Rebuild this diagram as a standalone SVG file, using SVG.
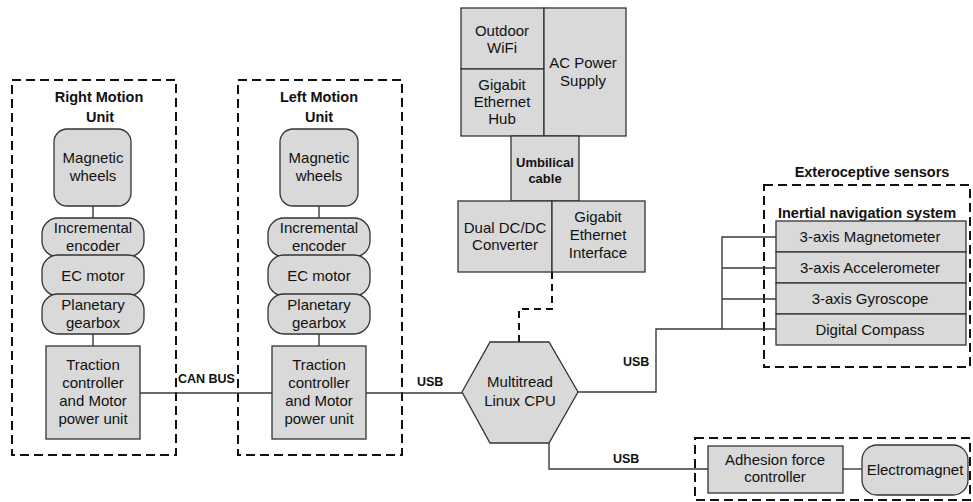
<svg xmlns="http://www.w3.org/2000/svg" width="973" height="502" viewBox="0 0 973 502">
  <style>
    .box { fill: #d9d9d9; stroke: #333; stroke-width: 1.3; }
    .grp { fill: none; stroke: #111; stroke-width: 2; stroke-dasharray: 9 5; }
    .wire { fill: none; stroke: #3a3a3a; stroke-width: 1.4; }
    .dwire { fill: none; stroke: #111; stroke-width: 2; stroke-dasharray: 7 5; }
    text { font-family: "Liberation Sans", Arial, sans-serif; fill: #111; }
    .t { font-size: 15px; text-anchor: middle; }
    .h { font-size: 14.5px; font-weight: bold; text-anchor: middle; }
    .lbl { font-size: 12.5px; font-weight: bold; }
  </style>

  <!-- group outlines -->
  <g id="groups">
    <rect class="grp" x="12" y="80" width="164" height="375"/>
    <rect class="grp" x="238" y="80" width="164" height="375"/>
    <rect class="grp" x="764" y="185" width="206" height="182"/>
    <rect class="grp" x="695" y="438" width="275" height="62"/>
  </g>

  <g id="group-titles">
    <text class="h" x="99" y="102">Right Motion</text>
    <text class="h" x="100" y="122">Unit</text>
    <text class="h" x="319" y="102">Left Motion</text>
    <text class="h" x="319" y="122">Unit</text>
    <text class="h" x="872" y="177">Exteroceptive sensors</text>
    <text class="h" x="867" y="218">Inertial navigation system</text>
  </g>

  <!-- connectors -->
  <g id="connectors">
    <line class="wire" x1="93" y1="206" x2="93" y2="218"/>
    <line class="wire" x1="93" y1="334" x2="93" y2="346"/>
    <line class="wire" x1="319" y1="206" x2="319" y2="218"/>
    <line class="wire" x1="319" y1="334" x2="319" y2="346"/>
    <line class="wire" x1="140" y1="393" x2="272" y2="393"/>
    <line class="wire" x1="366" y1="393" x2="462" y2="393"/>
    <polyline class="wire" points="578,392 656,392 656,329 776,329"/>
    <polyline class="wire" points="776,237 722,237 722,329"/>
    <line class="wire" x1="722" y1="268" x2="776" y2="268"/>
    <line class="wire" x1="722" y1="299" x2="776" y2="299"/>
    <polyline class="wire" points="549,443 549,469 708,469"/>
    <line class="wire" x1="843" y1="469" x2="862" y2="469"/>
    <polyline class="dwire" points="552,272 552,309 519,309 519,342"/>
    <text class="lbl" x="178" y="383">CAN BUS</text>
    <text class="lbl" x="417" y="386">USB</text>
    <text class="lbl" x="623" y="366">USB</text>
    <text class="lbl" x="613" y="463">USB</text>
  </g>

  <!-- right motion unit -->
  <g id="right-wheels">
    <rect class="box" x="54" y="129" width="77" height="77" rx="13"/>
    <text class="t" x="93" y="163">Magnetic</text>
    <text class="t" x="93" y="181">wheels</text>
  </g>
  <g id="right-encoder">
    <rect class="box" x="42" y="218" width="102" height="39" rx="16"/>
    <text class="t" x="93" y="233">Incremental</text>
    <text class="t" x="93" y="251">encoder</text>
  </g>
  <g id="right-motor">
    <rect class="box" x="42" y="255" width="102" height="41" rx="16"/>
    <text class="t" x="93" y="281">EC motor</text>
  </g>
  <g id="right-gearbox">
    <rect class="box" x="42" y="294" width="102" height="40" rx="16"/>
    <text class="t" x="93" y="310">Planetary</text>
    <text class="t" x="93" y="328">gearbox</text>
  </g>
  <g id="right-controller">
    <rect class="box" x="46" y="346" width="94" height="93"/>
    <text class="t" x="93" y="370">Traction</text>
    <text class="t" x="93" y="388">controller</text>
    <text class="t" x="93" y="406">and Motor</text>
    <text class="t" x="93" y="424">power unit</text>
  </g>

  <!-- left motion unit -->
  <g id="left-wheels">
    <rect class="box" x="280" y="129" width="78" height="77" rx="13"/>
    <text class="t" x="319" y="163">Magnetic</text>
    <text class="t" x="319" y="181">wheels</text>
  </g>
  <g id="left-encoder">
    <rect class="box" x="268" y="218" width="102" height="39" rx="16"/>
    <text class="t" x="319" y="233">Incremental</text>
    <text class="t" x="319" y="251">encoder</text>
  </g>
  <g id="left-motor">
    <rect class="box" x="268" y="255" width="102" height="41" rx="16"/>
    <text class="t" x="319" y="281">EC motor</text>
  </g>
  <g id="left-gearbox">
    <rect class="box" x="268" y="294" width="102" height="40" rx="16"/>
    <text class="t" x="319" y="310">Planetary</text>
    <text class="t" x="319" y="328">gearbox</text>
  </g>
  <g id="left-controller">
    <rect class="box" x="272" y="346" width="94" height="93"/>
    <text class="t" x="319" y="370">Traction</text>
    <text class="t" x="319" y="388">controller</text>
    <text class="t" x="319" y="406">and Motor</text>
    <text class="t" x="319" y="424">power unit</text>
  </g>

  <!-- base station -->
  <g id="wifi">
    <rect class="box" x="461" y="8" width="83" height="61"/>
    <text class="t" x="502" y="36">Outdoor</text>
    <text class="t" x="502" y="53">WiFi</text>
  </g>
  <g id="hub">
    <rect class="box" x="461" y="69" width="83" height="67"/>
    <text class="t" x="502" y="90">Gigabit</text>
    <text class="t" x="502" y="107">Ethernet</text>
    <text class="t" x="502" y="124">Hub</text>
  </g>
  <g id="ac-supply">
    <rect class="box" x="544" y="8" width="82" height="128"/>
    <text class="t" x="583" y="68">AC Power</text>
    <text class="t" x="583" y="86">Supply</text>
  </g>
  <g id="umbilical">
    <rect class="box" x="511" y="136" width="68" height="65"/>
    <text class="h" x="545" y="167" style="font-size:13px">Umbilical</text>
    <text class="h" x="545" y="183" style="font-size:13px">cable</text>
  </g>
  <g id="dcdc">
    <rect class="box" x="458" y="201" width="94" height="71"/>
    <text class="t" x="505" y="233">Dual DC/DC</text>
    <text class="t" x="505" y="250">Converter</text>
  </g>
  <g id="gige">
    <rect class="box" x="552" y="201" width="93" height="71"/>
    <text class="t" x="598" y="222">Gigabit</text>
    <text class="t" x="598" y="240">Ethernet</text>
    <text class="t" x="598" y="258">Interface</text>
  </g>

  <!-- onboard computer -->
  <g id="cpu">
    <polygon class="box" points="462,392 490,342 549,342 578,392 549,443 490,443"/>
    <text class="t" x="520" y="387">Multitread</text>
    <text class="t" x="520" y="406">Linux CPU</text>
  </g>

  <!-- inertial navigation system -->
  <g id="magnetometer">
    <rect class="box" x="776" y="221" width="190" height="31"/>
    <text class="t" x="870" y="242">3-axis Magnetometer</text>
  </g>
  <g id="accelerometer">
    <rect class="box" x="776" y="252" width="190" height="31"/>
    <text class="t" x="870" y="273">3-axis Accelerometer</text>
  </g>
  <g id="gyroscope">
    <rect class="box" x="776" y="283" width="190" height="31"/>
    <text class="t" x="870" y="304">3-axis Gyroscope</text>
  </g>
  <g id="compass">
    <rect class="box" x="776" y="314" width="190" height="31"/>
    <text class="t" x="870" y="335">Digital Compass</text>
  </g>

  <!-- adhesion system -->
  <g id="adhesion-controller">
    <rect class="box" x="708" y="446" width="135" height="47"/>
    <text class="t" x="775" y="465">Adhesion force</text>
    <text class="t" x="775" y="482">controller</text>
  </g>
  <g id="electromagnet">
    <rect class="box" x="862" y="445" width="106" height="50" rx="15"/>
    <text class="t" x="915" y="475">Electromagnet</text>
  </g>
</svg>
